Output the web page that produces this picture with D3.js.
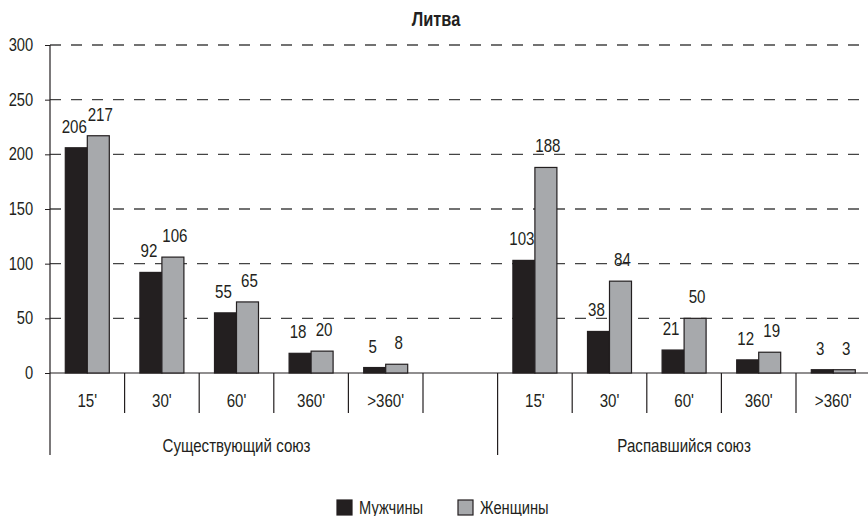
<!DOCTYPE html>
<html>
<head>
<meta charset="utf-8">
<script src="https://cdn.jsdelivr.net/npm/d3@7"></script>
<style>
  body { margin: 0; background: #fff; }
  svg text { font-family: "Liberation Sans", Arial, sans-serif; fill: #231f20; }
</style>
</head>
<body>
<svg id="svg" width="868" height="516"></svg>
<script>
// data
var categories = ["15'", "30'", "60'", "360'", ">360'"];
var groups = ["Существующий союз", "Распавшийся союз"];
var menValues = [[206, 92, 55, 18, 5], [103, 38, 21, 12, 3]];
var womenValues = [[217, 106, 65, 20, 8], [188, 84, 50, 19, 3]];
var seriesNames = ["Мужчины", "Женщины"];
var yTicks = [0, 50, 100, 150, 200, 250, 300];

var colors = ["#231f20", "#a7a9ac"];
var sx = 0.84; // squeeze text to look like a condensed face

var svg = d3.select("#svg");

// put a text at (px,py) and squeeze it horizontally
function squeeze(sel, px, py) {
    sel.attr("transform", function(d, i) {
        var a = typeof px === "function" ? px(d, i) : px;
        var b = typeof py === "function" ? py(d, i) : py;
        return "translate(" + a + "," + b + ") scale(" + sx + ",1)";
    });
}

// slots: 5 categories + 1 empty in first group, 5 in second
var slots = [];
categories.forEach(function(c, i) { slots.push("0-" + i); });
slots.push("0-gap");
categories.forEach(function(c, i) { slots.push("1-" + i); });

var step = 74.6;
var x = d3.scaleBand().domain(slots).range([50, 50 + step * slots.length]).padding(0);
var bw = x.bandwidth();
var xs = d3.scaleBand().domain([0, 1]).range([bw / 2 - 22, bw / 2 + 22]).padding(0);
var y = d3.scaleLinear().domain([0, 300]).range([373, 45]);

// title
svg.append("text")
    .attr("text-anchor", "middle")
    .attr("font-size", "19.5px")
    .attr("font-weight", "bold")
    .text("Литва")
    .call(squeeze, 436, 26);

// gridlines
svg.append("g").selectAll("line")
    .data(yTicks.filter(function(d) { return d > 0; }))
    .enter().append("line")
    .attr("x1", 50).attr("x2", 868)
    .attr("y1", function(d) { return y(d); })
    .attr("y2", function(d) { return y(d); })
    .attr("stroke", "#444")
    .attr("stroke-width", 1.3)
    .attr("stroke-dasharray", "11,10");

// y axis
var yAxis = svg.append("g")
    .attr("transform", "translate(50,0)")
    .call(d3.axisLeft(y).tickValues(yTicks).tickSize(5).tickPadding(15));
yAxis.select(".domain").remove();
yAxis.selectAll("line").attr("stroke", "#231f20");
yAxis.selectAll("text")
    .attr("font-size", "17.5px")
    .attr("transform", "scale(" + sx + ",1)");

// axis lines
svg.append("line")
    .attr("x1", 50).attr("x2", 50).attr("y1", 45).attr("y2", 455)
    .attr("stroke", "#231f20").attr("stroke-width", 1.2);
svg.append("line")
    .attr("x1", 50).attr("x2", 868).attr("y1", y(0)).attr("y2", y(0))
    .attr("stroke", "#231f20").attr("stroke-width", 1.2);

// category dividers
svg.append("g").selectAll("line")
    .data(slots.slice(1))
    .enter().append("line")
    .attr("x1", function(d) { return x(d); })
    .attr("x2", function(d) { return x(d); })
    .attr("y1", y(0))
    .attr("y2", function(d) { return d === "1-0" ? 455 : 413; })
    .attr("stroke", "#231f20").attr("stroke-width", 1.2);

// bars
groups.forEach(function(g, gi) {
    var rows = categories.map(function(c, ci) {
        return { slot: gi + "-" + ci, vals: [menValues[gi][ci], womenValues[gi][ci]] };
    });
    var cat = svg.append("g").selectAll("g")
        .data(rows)
        .enter().append("g")
        .attr("transform", function(d) { return "translate(" + x(d.slot) + ",0)"; });

    cat.selectAll("rect")
        .data(function(d) { return d.vals; })
        .enter().append("rect")
        .attr("x", function(d, i) { return xs(i); })
        .attr("width", xs.bandwidth())
        .attr("y", function(d) { return y(d); })
        .attr("height", function(d) { return y(0) - y(d); })
        .attr("fill", function(d, i) { return colors[i]; })
        .attr("stroke", "#231f20")
        .attr("stroke-width", 1.2);

    // labels nudged a little apart so pairs do not touch
    cat.selectAll("text.val")
        .data(function(d) { return d.vals; })
        .enter().append("text")
        .attr("class", "val")
        .attr("text-anchor", "middle")
        .attr("font-size", "18px")
        .text(function(d) { return d; })
        .call(squeeze, function(d, i) { return xs(i) + xs.bandwidth() / 2 + (i === 0 ? -2 : 2); },
                       function(d) { return y(d) - 15; });

    cat.append("text")
        .attr("text-anchor", "middle")
        .attr("font-size", "18px")
        .text(function(d, i) { return categories[i]; })
        .call(squeeze, bw / 2, 407);

    var x0 = x(gi + "-0"), x1 = x(gi + "-" + (categories.length - 1)) + bw;
    svg.append("text")
        .attr("text-anchor", "middle")
        .attr("font-size", "18px")
        .text(g)
        .call(squeeze, (x0 + x1) / 2, 452);
});

// legend
var legendX = [337, 458];
var legend = svg.append("g").selectAll("g")
    .data(seriesNames)
    .enter().append("g")
    .attr("transform", function(d, i) { return "translate(" + legendX[i] + ",500)"; });
legend.append("rect")
    .attr("width", 15).attr("height", 15)
    .attr("fill", function(d, i) { return colors[i]; })
    .attr("stroke", "#231f20").attr("stroke-width", 1.2);
legend.append("text")
    .attr("font-size", "17.5px")
    .text(function(d) { return d; })
    .call(squeeze, 22, 14);
</script>
</body>
</html>
